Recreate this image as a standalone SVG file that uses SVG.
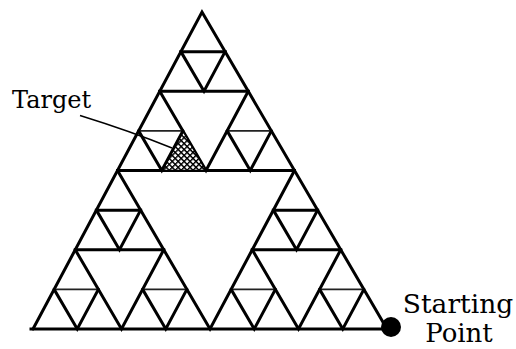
<svg xmlns="http://www.w3.org/2000/svg" width="516" height="349" viewBox="0 0 516 349">
<style>
.thick{fill:none;stroke:#000;stroke-width:3;stroke-linejoin:miter;stroke-linecap:square}
.leg{fill:none;stroke:#000;stroke-width:3;stroke-linecap:round}
.thin{fill:none;stroke:#222;stroke-width:1.6}
.lbl{font-family:"DejaVu Serif","Liberation Serif",serif;fill:#000}
.lead{fill:none;stroke:#000;stroke-width:1.4}
</style>
<defs>
<pattern id="hatch" patternUnits="userSpaceOnUse" width="4.2" height="4.2" patternTransform="rotate(45)">
<rect width="4.2" height="4.2" fill="#fff"/>
<path d="M0 0H4.2M0 0V4.2" stroke="#000" stroke-width="2.8"/>
</pattern>
</defs>
<rect width="516" height="349" fill="#fff"/>
<g id="sierpinski">
<g id="outer">
<path class="leg" d="M33 329 L202 12 L387 329"/>
<path class="thick" d="M31 329 H391"/>
</g>
<g id="level1">
<path class="thick" d="M117.5 170.5 H294.5"/>
<path class="leg" d="M117.5 170.5 L210 329 L294.5 170.5"/>
</g>
<g id="level2">
<path class="thick" d="M159.75 91.25 H248.25 M75.25 249.75 H163.75 M252.25 249.75 H340.75"/>
<path class="leg" d="M159.75 91.25 L206 170.5 L248.25 91.25 M75.25 249.75 L121.5 329 L163.75 249.75 M252.25 249.75 L298.5 329 L340.75 249.75"/>
</g>
<g id="target-cell">
<path d="M182.875 130.875 L161.75 170.5 L206 170.5 Z" fill="url(#hatch)" stroke="#000" stroke-width="1.5"/>
</g>
<g id="level3">
<path class="thick" d="M180.875 51.625 H225.125 M96.375 210.125 H140.625 M273.375 210.125 H317.625"/>
<path class="thin" d="M138.625 130.875 H182.875 M227.125 130.875 H271.375 M54.125 289.375 H98.375 M142.625 289.375 H186.875 M231.125 289.375 H275.375 M319.625 289.375 H363.875"/>
<path class="leg" d="M180.875 51.625 L204 91.25 L225.125 51.625 M96.375 210.125 L119.5 249.75 L140.625 210.125 M273.375 210.125 L296.5 249.75 L317.625 210.125 M138.625 130.875 L161.75 170.5 L182.875 130.875 M227.125 130.875 L250.25 170.5 L271.375 130.875 M54.125 289.375 L77.25 329 L98.375 289.375 M142.625 289.375 L165.75 329 L186.875 289.375 M231.125 289.375 L254.25 329 L275.375 289.375 M319.625 289.375 L342.75 329 L363.875 289.375"/>
</g>
</g>
<g id="target">
<text class="lbl" x="12" y="108" font-size="24">Target</text>
</g>
<g id="start">
<circle cx="391" cy="327" r="10" fill="#000"/>
<text class="lbl" x="458" y="313" font-size="26.5" text-anchor="middle">Starting</text>
<text class="lbl" x="459" y="342" font-size="26" text-anchor="middle">Point</text>
</g>
<g id="connectors">
<path class="lead" d="M80 115.5 Q130 131 172 148"/>
</g>
</svg>
